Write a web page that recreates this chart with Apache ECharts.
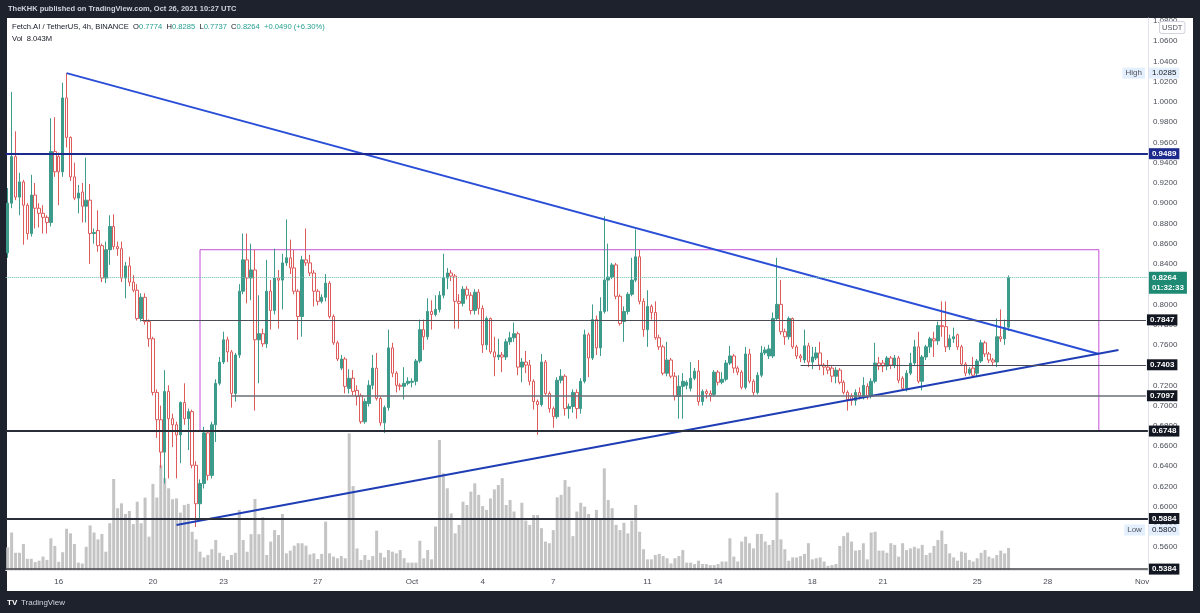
<!DOCTYPE html>
<html>
<head>
<meta charset="utf-8">
<title>Fetch.AI / TetherUS, 4h</title>
<script src="https://cdn.jsdelivr.net/npm/echarts@6/dist/echarts.min.js"></script>
<style>
  html, body { margin: 0; padding: 0; background: #1e222d; }
  #chart { width: 1200px; height: 613px; }
</style>
</head>
<body>
<div id="chart"></div>
<script>
// 4h bars, first one 2021-09-13 20:00 UTC, last one 2021-10-26 08:00 UTC
const startTime = Date.UTC(2021, 8, 13, 20);
const slotCount = 291; // empty slots to the right run up to Nov 1

// [open, close, low, high]
const candles = [
  [0.851,0.900,0.846,0.915],[0.900,0.946,0.895,1.010],[0.946,0.906,0.903,0.971],[0.906,0.921,0.888,0.930],
  [0.921,0.898,0.859,0.923],[0.898,0.870,0.864,0.900],[0.870,0.908,0.867,0.928],[0.908,0.895,0.875,0.920],
  [0.895,0.890,0.876,0.900],[0.890,0.886,0.870,0.898],[0.886,0.881,0.870,0.888],[0.881,0.951,0.877,0.984],
  [0.951,0.931,0.926,0.985],[0.946,0.931,0.898,0.950],[0.931,1.004,0.926,1.019],[1.004,0.965,0.955,1.0285],
  [0.965,0.926,0.922,0.966],[0.926,0.905,0.903,0.940],[0.905,0.910,0.890,0.918],[0.911,0.897,0.881,0.920],
  [0.897,0.903,0.881,0.945],[0.903,0.870,0.840,0.919],[0.870,0.871,0.860,0.875],[0.873,0.858,0.852,0.893],
  [0.858,0.826,0.822,0.860],[0.826,0.854,0.821,0.862],[0.854,0.877,0.839,0.888],[0.877,0.857,0.854,0.889],
  [0.857,0.855,0.848,0.862],[0.855,0.826,0.822,0.862],[0.826,0.838,0.806,0.842],[0.838,0.822,0.818,0.847],
  [0.822,0.814,0.812,0.829],[0.814,0.786,0.784,0.820],[0.786,0.807,0.783,0.811],[0.807,0.783,0.780,0.811],
  [0.783,0.766,0.758,0.785],[0.766,0.713,0.710,0.768],[0.713,0.686,0.668,0.716],[0.686,0.654,0.638,0.700],
  [0.654,0.714,0.623,0.735],[0.714,0.687,0.628,0.720],[0.687,0.681,0.659,0.692],[0.681,0.671,0.628,0.684],
  [0.671,0.703,0.643,0.704],[0.703,0.687,0.681,0.722],[0.687,0.694,0.656,0.697],[0.694,0.641,0.638,0.696],
  [0.641,0.603,0.580,0.645],[0.603,0.623,0.589,0.627],[0.623,0.673,0.618,0.679],[0.673,0.631,0.626,0.676],
  [0.631,0.681,0.628,0.684],[0.681,0.722,0.664,0.726],[0.722,0.743,0.720,0.748],[0.743,0.765,0.741,0.773],
  [0.765,0.753,0.743,0.768],[0.753,0.712,0.698,0.755],[0.712,0.750,0.704,0.752],[0.750,0.813,0.747,0.820],
  [0.813,0.844,0.810,0.870],[0.844,0.826,0.801,0.870],[0.826,0.834,0.804,0.860],[0.834,0.765,0.695,0.854],
  [0.765,0.771,0.722,0.809],[0.771,0.761,0.758,0.776],[0.761,0.813,0.757,0.844],[0.813,0.794,0.775,0.824],
  [0.794,0.826,0.790,0.855],[0.826,0.824,0.776,0.834],[0.824,0.841,0.795,0.850],[0.841,0.846,0.838,0.884],
  [0.846,0.836,0.830,0.864],[0.836,0.813,0.810,0.854],[0.813,0.788,0.765,0.815],[0.788,0.844,0.768,0.848],
  [0.844,0.841,0.838,0.875],[0.841,0.831,0.828,0.849],[0.831,0.813,0.798,0.834],[0.813,0.803,0.799,0.815],
  [0.803,0.807,0.801,0.810],[0.807,0.821,0.803,0.830],[0.821,0.788,0.786,0.823],[0.788,0.762,0.760,0.790],
  [0.762,0.746,0.744,0.764],[0.737,0.746,0.735,0.750],[0.746,0.719,0.712,0.748],[0.717,0.727,0.712,0.736],
  [0.727,0.714,0.710,0.735],[0.715,0.709,0.700,0.720],[0.710,0.684,0.682,0.712],[0.684,0.704,0.682,0.707],
  [0.702,0.720,0.699,0.725],[0.720,0.737,0.716,0.750],[0.737,0.707,0.705,0.752],[0.707,0.683,0.680,0.709],
  [0.683,0.698,0.673,0.700],[0.698,0.757,0.695,0.775],[0.757,0.732,0.728,0.762],[0.732,0.720,0.713,0.734],
  [0.720,0.719,0.715,0.722],[0.719,0.722,0.706,0.738],[0.722,0.724,0.720,0.728],[0.723,0.724,0.718,0.727],
  [0.724,0.744,0.720,0.746],[0.744,0.775,0.742,0.785],[0.775,0.768,0.755,0.785],[0.768,0.793,0.765,0.806],
  [0.793,0.790,0.775,0.804],[0.790,0.795,0.788,0.809],[0.795,0.809,0.792,0.813],[0.809,0.826,0.806,0.850],
  [0.826,0.831,0.815,0.836],[0.831,0.828,0.823,0.834],[0.828,0.803,0.776,0.830],[0.803,0.801,0.776,0.810],
  [0.801,0.815,0.798,0.818],[0.815,0.809,0.805,0.818],[0.809,0.794,0.790,0.812],[0.794,0.812,0.790,0.815],
  [0.812,0.796,0.790,0.815],[0.796,0.760,0.752,0.799],[0.760,0.786,0.755,0.788],[0.786,0.753,0.751,0.787],
  [0.753,0.748,0.729,0.768],[0.748,0.750,0.745,0.766],[0.750,0.748,0.733,0.753],[0.748,0.763,0.745,0.766],
  [0.763,0.767,0.760,0.773],[0.767,0.771,0.763,0.782],[0.771,0.738,0.730,0.773],[0.738,0.743,0.723,0.747],
  [0.743,0.740,0.732,0.754],[0.740,0.724,0.720,0.745],[0.724,0.704,0.696,0.726],[0.704,0.701,0.671,0.706],
  [0.701,0.743,0.699,0.751],[0.743,0.712,0.710,0.745],[0.712,0.697,0.693,0.714],[0.697,0.689,0.678,0.699],
  [0.689,0.725,0.687,0.728],[0.725,0.729,0.722,0.736],[0.729,0.697,0.690,0.731],[0.697,0.699,0.687,0.702],
  [0.699,0.713,0.693,0.716],[0.713,0.697,0.687,0.716],[0.697,0.724,0.692,0.727],[0.724,0.770,0.722,0.775],
  [0.770,0.747,0.728,0.772],[0.747,0.785,0.745,0.800],[0.785,0.757,0.750,0.789],[0.757,0.793,0.749,0.807],
  [0.793,0.824,0.791,0.887],[0.824,0.827,0.793,0.860],[0.827,0.839,0.825,0.841],[0.839,0.808,0.805,0.841],
  [0.808,0.781,0.779,0.810],[0.783,0.793,0.763,0.798],[0.793,0.810,0.790,0.812],[0.810,0.824,0.808,0.846],
  [0.824,0.847,0.822,0.874],[0.847,0.803,0.800,0.854],[0.803,0.775,0.768,0.806],[0.775,0.798,0.758,0.814],
  [0.798,0.792,0.785,0.800],[0.792,0.767,0.765,0.803],[0.767,0.758,0.755,0.770],[0.758,0.732,0.730,0.760],
  [0.732,0.745,0.729,0.763],[0.745,0.729,0.727,0.747],[0.729,0.709,0.705,0.733],[0.709,0.719,0.687,0.730],
  [0.719,0.724,0.687,0.732],[0.720,0.723,0.716,0.725],[0.717,0.727,0.714,0.743],[0.727,0.734,0.725,0.737],
  [0.734,0.704,0.700,0.745],[0.704,0.714,0.700,0.716],[0.714,0.712,0.707,0.716],[0.712,0.710,0.704,0.715],
  [0.711,0.733,0.709,0.735],[0.733,0.723,0.720,0.735],[0.723,0.726,0.721,0.733],[0.726,0.742,0.724,0.745],
  [0.742,0.749,0.740,0.759],[0.749,0.737,0.732,0.751],[0.737,0.733,0.730,0.739],[0.733,0.718,0.716,0.735],
  [0.718,0.751,0.716,0.758],[0.751,0.724,0.722,0.756],[0.724,0.713,0.710,0.726],[0.713,0.730,0.711,0.733],
  [0.730,0.752,0.728,0.759],[0.752,0.755,0.750,0.758],[0.749,0.756,0.746,0.760],[0.749,0.786,0.747,0.792],
  [0.786,0.800,0.784,0.846],[0.800,0.773,0.770,0.824],[0.773,0.768,0.760,0.776],[0.768,0.786,0.765,0.788],
  [0.786,0.758,0.756,0.787],[0.758,0.749,0.746,0.760],[0.749,0.747,0.743,0.751],[0.745,0.759,0.742,0.775],
  [0.759,0.743,0.738,0.762],[0.743,0.748,0.736,0.758],[0.747,0.752,0.745,0.758],[0.752,0.740,0.735,0.763],
  [0.740,0.738,0.730,0.742],[0.738,0.735,0.731,0.745],[0.737,0.729,0.723,0.739],[0.729,0.735,0.722,0.738],
  [0.735,0.723,0.721,0.737],[0.723,0.713,0.711,0.725],[0.713,0.706,0.695,0.715],[0.709,0.705,0.700,0.712],
  [0.705,0.713,0.700,0.716],[0.713,0.709,0.706,0.718],[0.709,0.720,0.706,0.728],[0.719,0.709,0.706,0.722],
  [0.709,0.724,0.707,0.727],[0.724,0.742,0.722,0.762],[0.742,0.739,0.735,0.748],[0.742,0.739,0.733,0.745],
  [0.739,0.747,0.735,0.749],[0.747,0.740,0.736,0.749],[0.740,0.747,0.737,0.750],[0.747,0.725,0.722,0.749],
  [0.727,0.717,0.715,0.729],[0.717,0.732,0.714,0.735],[0.732,0.742,0.730,0.752],[0.742,0.758,0.740,0.765],
  [0.758,0.724,0.722,0.773],[0.724,0.748,0.715,0.750],[0.748,0.758,0.745,0.760],[0.758,0.766,0.752,0.768],
  [0.766,0.764,0.748,0.773],[0.764,0.779,0.760,0.783],[0.779,0.778,0.768,0.803],[0.778,0.758,0.753,0.803],
  [0.758,0.766,0.755,0.770],[0.766,0.768,0.762,0.777],[0.770,0.758,0.755,0.771],[0.758,0.741,0.739,0.760],
  [0.741,0.732,0.729,0.743],[0.732,0.736,0.730,0.738],[0.737,0.730,0.728,0.748],[0.732,0.744,0.729,0.746],
  [0.744,0.762,0.742,0.765],[0.762,0.751,0.748,0.764],[0.751,0.745,0.742,0.753],[0.745,0.743,0.739,0.747],
  [0.743,0.768,0.738,0.786],[0.768,0.766,0.763,0.795],[0.766,0.777,0.760,0.785],[0.7774,0.8264,0.7737,0.8285]
];

// volume, millions FET
const volumes = [
  8.3,13.7,6.3,6.3,9.5,4.1,4.1,2.9,3.4,4.9, 3.7,11.6,8.8,3.0,6.5,15.1,13.4,9.5,2.7,2.4,
  8.5,16.3,13.7,11.2,13.2,6.7,17.1,33.3,22.6,24.4, 20.5,21.6,16.8,25.0,17.1,26.5,12.2,31.5,26.5,38.4,
  33.6,29.9,25.9,26.2,21.0,23.8,24.2,14.0,11.2,6.7, 4.6,5.5,7.6,11.0,6.3,5.1,3.7,
  5.5,6.3,22.0,11.0,6.7,13.1,26.0,13.1,19.3,5.5, 10.4,14.6,12.8,20.5,6.1,7.1,8.9,9.8,9.8,8.9,
  5.7,6.1,4.0,5.9,17.7,6.1,4.9,4.3,5.1,4.3, 50.0,30.7,7.9,3.7,5.5,3.7,5.1,14.4,6.3,4.6,
  7.3,6.7,6.1,7.3,4.3,2.7,2.7,2.7,10.7,4.3, 7.3,3.9,15.9,47.6,35.4,
  29.9,20.7,13.4,16.5,25.0,23.8,28.7,31.7,27.5,23.4, 22.0,26.2,29.5,31.1,33.6,23.8,25.6,21.4,18.3,24.6,
  18.1,16.5,20.1,20.1,15.3,10.4,9.8,14.6,26.6,27.5, 32.9,30.5,12.4,21.4,24.6,23.2,20.5,18.3,22.0,19.0,
  37.2,25.6,22.6,16.5,14.6,17.3,13.4,18.1,23.8,14.0, 7.6,3.9,3.9,5.5,5.9,5.1,
  4.3,2.4,4.3,5.1,7.3,2.7,2.7,2.2,3.4,2.2, 2.2,1.8,1.8,2.2,3.1,3.1,11.6,4.9,3.1,10.4,
  12.2,9.8,7.9,13.2,13.2,10.4,9.2,11.0,28.3,11.2, 7.6,3.4,4.6,4.6,5.1,5.9,9.8,3.9,4.3,4.6,
  3.1,1.5,1.8,2.2,8.8,12.4,13.7,10.4,7.1,7.3, 9.8,3.9,13.7,14.0,
  7.1,7.1,6.3,9.8,9.2,4.9,9.8,7.3,7.9,8.5, 7.9,9.2,5.5,6.3,8.8,11.0,14.4,9.5,6.1,4.6,
  3.4,6.7,6.3,3.7,3.1,4.3,6.3,7.3,4.9,4.3, 5.5,7.1,6.1,8.043
];

// time scale labels
const dayTicks = [
  ['2021-09-16 00:00', '16'], ['2021-09-20 00:00', '20'], ['2021-09-23 00:00', '23'],
  ['2021-09-27 00:00', '27'], ['2021-10-01 00:00', 'Oct'], ['2021-10-04 00:00', '4'],
  ['2021-10-07 00:00', '7'], ['2021-10-11 00:00', '11'], ['2021-10-14 00:00', '14'],
  ['2021-10-18 00:00', '18'], ['2021-10-21 00:00', '21'], ['2021-10-25 00:00', '25'],
  ['2021-10-28 00:00', '28'], ['2021-11-01 00:00', 'Nov']
];

// drawings on the chart
const downTrend = [['2021-09-16 08:00', 1.0285], ['2021-10-30 04:00', 0.751]];
const upTrend = [['2021-09-21 00:00', 0.582], ['2021-10-31 00:00', 0.755]];
const rangeBox = [['2021-09-22 00:00', 0.854], ['2021-10-30 04:00', 0.6748]];
const resistance = 0.9489;
const supports = [0.6748, 0.5884];
const bottomLevel = 0.5384;
const shortLevels = [['2021-09-19 12:00', 0.7847], ['2021-10-17 12:00', 0.7403], ['2021-09-23 08:00', 0.7097]];
const lastPrice = 0.8264;
const countdown = '01:32:33';
const highPrice = 1.0285;
const lowPrice = 0.5800;

const FONT = '"Liberation Sans", Arial, sans-serif';
const pad = n => String(n).padStart(2, '0');
const categories = [];
for (let i = 0; i < slotCount; i++) {
  const d = new Date(startTime + i * 4 * 3600 * 1000);
  categories.push(d.getUTCFullYear() + '-' + pad(d.getUTCMonth() + 1) + '-' + pad(d.getUTCDate()) + ' ' + pad(d.getUTCHours()) + ':00');
}
const tickMap = new Map(dayTicks);
const at = name => categories.indexOf(name);
const lastSlot = categories.length - 1;

function tag(text, bg, color, extra) {
  return Object.assign({
    show: true, position: 'end', distance: 1, formatter: text,
    color: color || '#fff', backgroundColor: bg, padding: [2, 3, 1, 3],
    fontSize: 8, fontWeight: 'bold', fontFamily: FONT
  }, extra || {});
}

const markLines = [];
markLines.push([
  { coord: [at(downTrend[0][0]), downTrend[0][1]], lineStyle: { color: '#2a4fd6', width: 2, type: 'solid' }, label: { show: false } },
  { coord: [at(downTrend[1][0]), downTrend[1][1]] }
]);
markLines.push([
  { coord: [at(upTrend[0][0]), upTrend[0][1]], lineStyle: { color: '#1f3db5', width: 2, type: 'solid' }, label: { show: false } },
  { coord: [at(upTrend[1][0]), upTrend[1][1]] }
]);
markLines.push({ yAxis: resistance, lineStyle: { color: '#1b2a8c', width: 2, type: 'solid' }, label: tag(resistance.toFixed(4), '#1b2a8c') });
supports.forEach(v => {
  markLines.push({ yAxis: v, lineStyle: { color: '#2a2e39', width: 2, type: 'solid' }, label: tag(v.toFixed(4), '#131722') });
});
markLines.push({ yAxis: bottomLevel, lineStyle: { color: '#444', width: 1.5, type: 'solid' }, label: tag(bottomLevel.toFixed(4), '#131722') });
shortLevels.forEach(([start, v], i) => {
  markLines.push([
    { coord: [at(start), v], lineStyle: { color: i === 2 ? '#6b6e78' : '#4a4d57', width: i === 2 ? 1.5 : 1.2, type: 'solid' }, label: tag(v.toFixed(4), '#131722') },
    { coord: [lastSlot, v] }
  ]);
});
markLines.push({
  yAxis: lastPrice, lineStyle: { color: '#6cbfae', width: 1, type: 'dotted' },
  label: tag(lastPrice.toFixed(4) + '\n' + countdown, '#1f8a74', '#fff', { lineHeight: 10, padding: [1, 3, 1, 3], offset: [0, 5] })
});
const clear = 'rgba(0,0,0,0)';
markLines.push({ yAxis: highPrice, lineStyle: { color: clear }, label: tag(highPrice.toFixed(4), '#e3effd', '#131722', { fontWeight: 'normal' }) });
markLines.push({ yAxis: highPrice, lineStyle: { color: clear }, label: tag('High', '#e3effd', '#50535e', { position: 'insideEnd', distance: 3, fontWeight: 'normal' }) });
// the low tag is nudged down so it does not sit on the 0.5884 tag
markLines.push({ yAxis: lowPrice, lineStyle: { color: clear }, label: tag(lowPrice.toFixed(4), '#e3effd', '#131722', { fontWeight: 'normal', offset: [0, 3] }) });
markLines.push({ yAxis: lowPrice, lineStyle: { color: clear }, label: tag('Low', '#e3effd', '#50535e', { position: 'insideEnd', distance: 3, fontWeight: 'normal', offset: [0, 3] }) });

const chart = echarts.init(document.getElementById('chart'));
const option = {
  backgroundColor: '#1e222d',
  animation: false,
  textStyle: { fontFamily: FONT },
  graphic: [
    { type: 'rect', z: -10, silent: true, shape: { x: 7, y: 18, width: 1186, height: 573 }, style: { fill: '#ffffff' } },
    { type: 'text', x: 8, y: 9, silent: true, style: {
      text: 'TheKHK published on TradingView.com, Oct 26, 2021 10:27 UTC',
      fill: '#d1d4dc', font: 'bold 7.5px ' + FONT, verticalAlign: 'middle' } },
    { type: 'text', x: 12, y: 27, silent: true, style: {
      text: '{n|Fetch.AI / TetherUS, 4h, BINANCE}  {n|O}{v|0.7774}  {n|H}{v|0.8285}  {n|L}{v|0.7737}  {n|C}{v|0.8264}  {v|+0.0490 (+6.30%)}',
      font: '7.6px ' + FONT, fill: '#131722', verticalAlign: 'middle',
      rich: { n: { fill: '#131722', fontSize: 7.6, fontFamily: FONT }, v: { fill: '#26a08f', fontSize: 7.6, fontFamily: FONT } } } },
    { type: 'text', x: 12, y: 39, silent: true, style: {
      text: 'Vol  8.043M', fill: '#131722', font: '7.6px ' + FONT, verticalAlign: 'middle' } },
    { type: 'text', x: 1160, y: 22, z: 100, silent: true, style: {
      text: 'USDT', fill: '#50535e', font: '7.5px ' + FONT, backgroundColor: '#ffffff',
      borderColor: '#d1d4dc', borderWidth: 1, borderRadius: 2, padding: [2, 2, 1, 2] } },
    { type: 'text', x: 7, y: 603, silent: true, style: {
      text: 'TV', fill: '#ffffff', font: 'bold 8px ' + FONT, verticalAlign: 'middle' } },
    { type: 'text', x: 21, y: 603, silent: true, style: {
      text: 'TradingView', fill: '#d1d4dc', font: '8px ' + FONT, verticalAlign: 'middle' } }
  ],
  grid: { left: 5.74, right: 52.1, top: 18, bottom: 43 },
  xAxis: {
    type: 'category', data: categories, boundaryGap: true,
    axisLine: { show: true, lineStyle: { color: '#e0e3eb' } },
    axisTick: { show: false },
    splitLine: { show: false },
    axisLabel: {
      interval: (i, v) => tickMap.has(v),
      formatter: v => tickMap.get(v) || '',
      color: '#4a4d57', fontSize: 8, margin: 8
    }
  },
  yAxis: [
    {
      type: 'value', position: 'right', min: 0.5375, max: 1.083, splitNumber: 27,
      splitLine: { show: false },
      axisLine: { show: true, lineStyle: { color: '#e0e3eb' } },
      axisTick: { show: false },
      axisLabel: { formatter: v => v.toFixed(4), color: '#4a4d57', fontSize: 8, margin: 5, showMinLabel: false, showMaxLabel: false }
    },
    { type: 'value', min: 0, max: 202, show: false }
  ],
  series: [
    {
      type: 'bar', name: 'Vol', data: volumes, yAxisIndex: 1, barWidth: 3, z: 1,
      itemStyle: { color: '#c4c4c4' }
    },
    {
      type: 'candlestick', name: 'FETUSDT', data: candles, barWidth: 3, z: 2,
      itemStyle: { color: '#3d9b8b', color0: '#ffffff', borderColor: '#3d9b8b', borderColor0: '#de5b5b', borderWidth: 1 },
      markLine: { silent: true, precision: 4, symbol: ['none', 'none'], data: markLines },
      markArea: {
        silent: true, label: { show: false },
        data: [[
          { coord: [at(rangeBox[0][0]), rangeBox[0][1]], itemStyle: { color: clear, borderColor: '#c44fd8', borderWidth: 1 } },
          { coord: [at(rangeBox[1][0]), rangeBox[1][1]] }
        ]]
      }
    }
  ]
};
chart.setOption(option);
</script>
</body>
</html>
